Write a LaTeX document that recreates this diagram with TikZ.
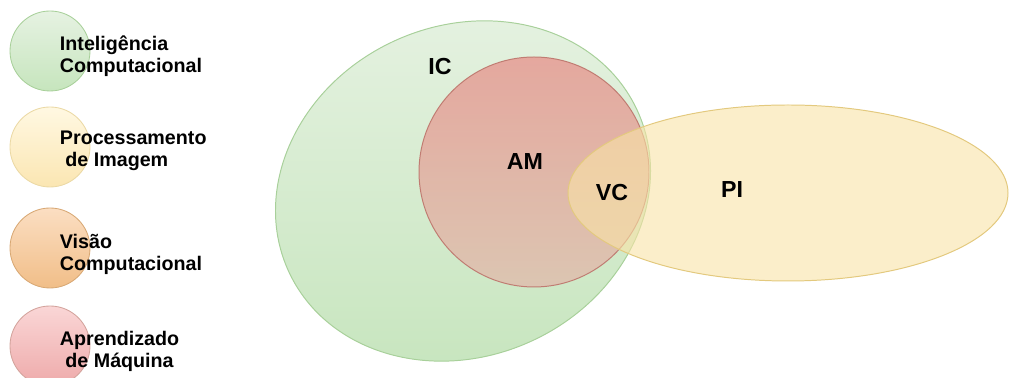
\documentclass[tikz,border=0pt]{standalone}
\usepackage{fontspec}
\setmainfont{Liberation Sans}
\usetikzlibrary{positioning}
\definecolor{icgreen}{HTML}{D5E8D4}
\definecolor{ictop}{HTML}{E6F2E2}
\definecolor{icbottom}{HTML}{C6E5BD}
\definecolor{icdraw}{HTML}{A8D09A}
\definecolor{piyellow}{HTML}{F9E3A6}
\definecolor{pitop}{HTML}{FFF8E2}
\definecolor{pibottom}{HTML}{FBE6B2}
\definecolor{pidraw}{HTML}{E3C97E}
\definecolor{amtop}{HTML}{E6968F}
\definecolor{ambottom}{HTML}{E0BDAD}
\definecolor{amdraw}{HTML}{C07C72}
\definecolor{amlegtop}{HTML}{FAD6D6}
\definecolor{amlegbottom}{HTML}{EEAAAA}
\definecolor{vctop}{HTML}{FBDEC2}
\definecolor{vcbottom}{HTML}{F1BE88}
\definecolor{vcdraw}{HTML}{D8A874}

\begin{document}
\begin{tikzpicture}
[legcircle/.style={shape=circle,minimum size=2cm,inner sep=0pt,line width=.6pt},
legtext/.style={anchor=west,align=left,font=\bfseries\fontsize{14}{15.6}\selectfont},
setlabel/.style={font=\bfseries\fontsize{16.5}{19}\selectfont},
setline/.style={line width=.7pt}]
\useasboundingbox (0,0) rectangle (25.225,9.45);
%%
% legend
%%
\node[legcircle,top color=ictop,bottom color=icbottom,draw=icdraw] (lIC) at (1.25,8.175) {};
\node[legcircle,top color=pitop,bottom color=pibottom,draw=pidraw!70] (lPI) at (1.25,5.775) {};
\node[legcircle,top color=vctop,bottom color=vcbottom,draw=vcdraw] (lVC) at (1.25,3.25) {};
\node[legcircle,top color=amlegtop,bottom color=amlegbottom,draw=amdraw!70] (lAM) at (1.25,.8) {};
\node[legtext] (tIC) at (1.375,8.05) {Inteligência\\Computacional};
\node[legtext] (tPI) at (1.375,5.675) {Processamento\\\ de Imagem};
\node[legtext] (tVC) at (1.375,3.1) {Visão\\Computacional};
\node[legtext] (tAM) at (1.375,.675) {Aprendizado\\\ de Máquina};
%%
% IC, AM and PI
%%
\draw[setline,draw=icdraw,top color=ictop,bottom color=icbottom]
(11.575,4.675) ellipse [x radius=4.8,y radius=4.125,rotate=25];
\draw[setline,draw=amdraw,top color=amtop,bottom color=ambottom,fill opacity=.8]
(13.35,5.15) circle [radius=2.875];
\draw[setline,draw=pidraw,fill=piyellow,fill opacity=.6]
(19.7,4.625) ellipse [x radius=5.5,y radius=2.2];
%%
% labels
%%
\node[setlabel] (IC) at (11,7.775) {IC};
\node[setlabel] (AM) at (13.125,5.4) {AM};
\node[setlabel] (VC) at (15.3,4.625) {VC};
\node[setlabel] (PI) at (18.3,4.7) {PI};
\end{tikzpicture}
\end{document}
